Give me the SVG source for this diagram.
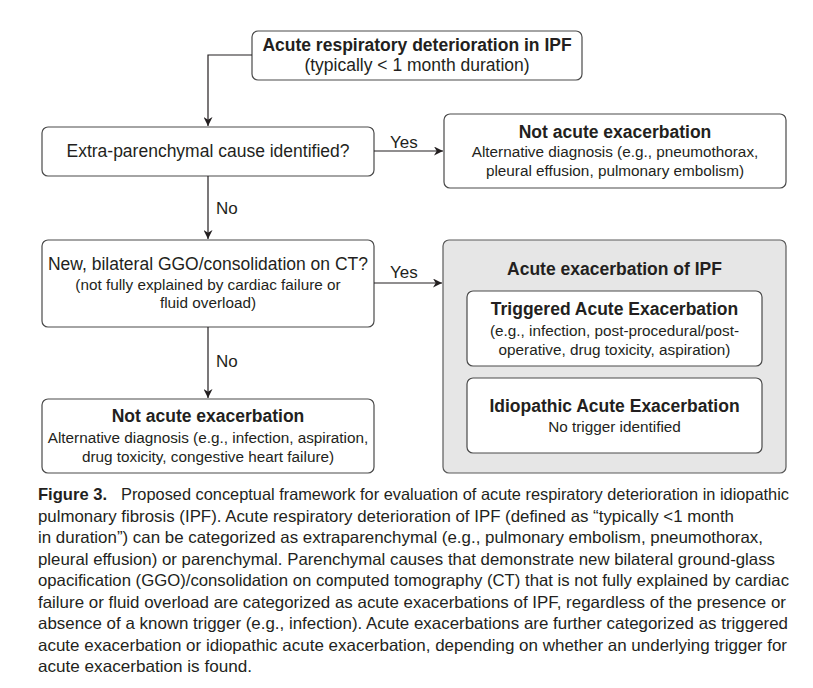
<svg xmlns="http://www.w3.org/2000/svg" width="813" height="688" viewBox="0 0 813 688">
<style>
.box{fill:#fff;stroke:#4a4a4a;stroke-width:1.2}
.grp{fill:#e6e6e6;stroke:#5a5a5a;stroke-width:1.2}
text{font-family:"Liberation Sans",Arial,Helvetica,sans-serif;fill:#231f20}
.b{font-weight:bold;font-size:17.5px;text-anchor:middle}
.q{font-size:17.5px;text-anchor:middle}
.d{font-size:15.3px;text-anchor:middle}
.lbl{font-size:17px}
.cap{font-size:16.5px}
.conn{fill:none;stroke:#231f20;stroke-width:1.2}
</style>
<defs>
<marker id="ah" viewBox="0 0 10 10" refX="10" refY="5" markerWidth="9" markerHeight="9" markerUnits="userSpaceOnUse" orient="auto">
<path d="M0,0 L10,5 L0,10 L3,5 Z" fill="#231f20"/>
</marker>
</defs>
<rect width="813" height="688" fill="#fff"/>

<g id="n-start">
<rect class="box" x="252" y="31" width="330" height="49" rx="6"/>
<text class="b" x="417" y="51">Acute respiratory deterioration in IPF</text>
<text class="q" x="417" y="71">(typically &lt; 1 month duration)</text>
</g>

<g id="n-extra">
<rect class="box" x="42" y="127" width="332" height="49" rx="6"/>
<text class="q" x="208" y="157">Extra-parenchymal cause identified?</text>
</g>

<g id="n-notae1">
<rect class="box" x="444" y="114" width="342" height="74" rx="6"/>
<text class="b" x="615" y="138">Not acute exacerbation</text>
<text class="d" x="615" y="157">Alternative diagnosis (e.g., pneumothorax,</text>
<text class="d" x="615" y="176">pleural effusion, pulmonary embolism)</text>
</g>

<g id="n-ggo">
<rect class="box" x="42" y="240" width="332" height="87" rx="6"/>
<text class="q" x="208" y="270">New, bilateral GGO/consolidation on CT?</text>
<text class="d" x="208" y="290">(not fully explained by cardiac failure or</text>
<text class="d" x="208" y="308">fluid overload)</text>
</g>

<g id="n-aeipf">
<rect class="grp" x="443" y="240" width="343" height="233" rx="6"/>
<text class="b" x="614.5" y="275">Acute exacerbation of IPF</text>
</g>

<g id="n-triggered">
<rect class="box" x="467" y="291" width="295" height="75" rx="6"/>
<text class="b" x="614.5" y="315">Triggered Acute Exacerbation</text>
<text class="d" x="614.5" y="336">(e.g., infection, post-procedural/post-</text>
<text class="d" x="614.5" y="355">operative, drug toxicity, aspiration)</text>
</g>

<g id="n-idiopathic">
<rect class="box" x="467" y="378" width="295" height="75" rx="6"/>
<text class="b" x="614.5" y="412">Idiopathic Acute Exacerbation</text>
<text class="d" x="614.5" y="432">No trigger identified</text>
</g>

<g id="n-notae2">
<rect class="box" x="42" y="399" width="332" height="74" rx="6"/>
<text class="b" x="208" y="422">Not acute exacerbation</text>
<text class="d" x="208" y="443">Alternative diagnosis (e.g., infection, aspiration,</text>
<text class="d" x="208" y="462">drug toxicity, congestive heart failure)</text>
</g>

<g id="connectors">
<path class="conn" d="M252,55 H208 V126" marker-end="url(#ah)"/>
<path class="conn" d="M374,151 H443" marker-end="url(#ah)"/>
<path class="conn" d="M208,176 V239" marker-end="url(#ah)"/>
<path class="conn" d="M374,283 H442" marker-end="url(#ah)"/>
<path class="conn" d="M208,327 V398" marker-end="url(#ah)"/>
<text class="lbl" x="390" y="148">Yes</text>
<text class="lbl" x="390" y="278">Yes</text>
<text class="lbl" x="216" y="214">No</text>
<text class="lbl" x="216" y="367">No</text>
</g>

<g id="caption">
<text class="cap" x="38" y="500" font-weight="bold" textLength="69" lengthAdjust="spacingAndGlyphs">Figure 3.</text>
<text class="cap" x="121" y="500" textLength="668" lengthAdjust="spacingAndGlyphs">Proposed conceptual framework for evaluation of acute respiratory deterioration in idiopathic</text>
<text class="cap" x="38" y="521.5" textLength="696" lengthAdjust="spacingAndGlyphs">pulmonary fibrosis (IPF). Acute respiratory deterioration of IPF (defined as “typically &lt;1 month</text>
<text class="cap" x="38" y="543" textLength="725" lengthAdjust="spacingAndGlyphs">in duration”) can be categorized as extraparenchymal (e.g., pulmonary embolism, pneumothorax,</text>
<text class="cap" x="38" y="564.5" textLength="737" lengthAdjust="spacingAndGlyphs">pleural effusion) or parenchymal. Parenchymal causes that demonstrate new bilateral ground-glass</text>
<text class="cap" x="38" y="586" textLength="751" lengthAdjust="spacingAndGlyphs">opacification (GGO)/consolidation on computed tomography (CT) that is not fully explained by cardiac</text>
<text class="cap" x="38" y="607.5" textLength="748" lengthAdjust="spacingAndGlyphs">failure or fluid overload are categorized as acute exacerbations of IPF, regardless of the presence or</text>
<text class="cap" x="38" y="629" textLength="750" lengthAdjust="spacingAndGlyphs">absence of a known trigger (e.g., infection). Acute exacerbations are further categorized as triggered</text>
<text class="cap" x="38" y="650.5" textLength="749" lengthAdjust="spacingAndGlyphs">acute exacerbation or idiopathic acute exacerbation, depending on whether an underlying trigger for</text>
<text class="cap" x="38" y="672" textLength="214" lengthAdjust="spacingAndGlyphs">acute exacerbation is found.</text>
</g>
</svg>
